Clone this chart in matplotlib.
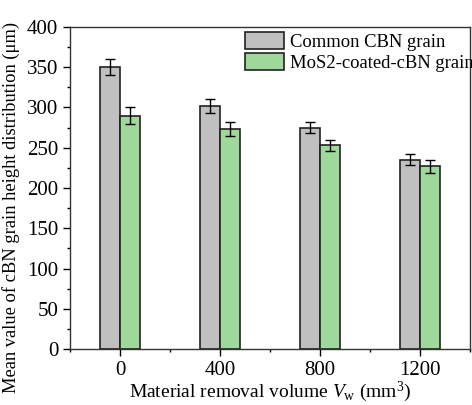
import matplotlib.pyplot as plt
import numpy as np
from matplotlib.ticker import MultipleLocator

plt.rcParams['font.family'] = ['Liberation Serif', 'DejaVu Serif']
plt.rcParams['mathtext.fontset'] = 'custom'
plt.rcParams['mathtext.rm'] = 'Liberation Serif'
plt.rcParams['mathtext.it'] = 'Liberation Serif:italic'

volumes = [0, 400, 800, 1200]
common_mean = [350, 302, 275, 235]
common_err = [10, 9, 7, 7]
coated_mean = [290, 273, 253, 227]
coated_err = [10, 9, 7, 8]
labels = ['Common CBN grain', 'MoS2-coated-cBN grain']

fig = plt.figure(figsize=(4.72, 4.05), dpi=100)
ax = fig.add_axes([70 / 472, 56 / 405, 400 / 472, 322 / 405])

x = np.array(volumes)
w = 80
err_kw = dict(ecolor='black', elinewidth=1.0, capsize=3.6, capthick=1.0)
ax.bar(x - w / 2, common_mean, w, yerr=common_err, color='#c0c0c0',
       edgecolor='#222222', linewidth=1.2, label=labels[0], error_kw=err_kw)
ax.bar(x + w / 2, coated_mean, w, yerr=coated_err, color='#9ed89a',
       edgecolor='#222222', linewidth=1.2, label=labels[1], error_kw=err_kw)

ax.set_xlim(-200, 1400)
ax.set_ylim(0, 400)
ax.set_xticks(volumes)
ax.xaxis.set_minor_locator(MultipleLocator(200))
ax.yaxis.set_major_locator(MultipleLocator(50))
ax.yaxis.set_minor_locator(MultipleLocator(25))
ax.tick_params(which='major', direction='out', length=5, width=1, labelsize=15)
ax.tick_params(which='minor', direction='out', length=2.5, width=1)
for s in ax.spines.values():
    s.set_linewidth(1.0)
    s.set_color('#333333')

ax.set_xlabel(r'Material removal volume $V_{\rm w}$ (mm$^3$)', fontsize=14, labelpad=0)
ax.set_ylabel('Mean value of cBN grain height distribution (μm)', fontsize=13.3)
ax.yaxis.set_label_coords(-0.125, 0.44)

ax.legend(loc='upper left', bbox_to_anchor=(0.4375, 0.984), frameon=False,
          fontsize=13.4, borderpad=0, borderaxespad=0, handlelength=2.1,
          handleheight=1.05, handletextpad=0.3, labelspacing=0.1)

fig.savefig('out.png', dpi=100)
